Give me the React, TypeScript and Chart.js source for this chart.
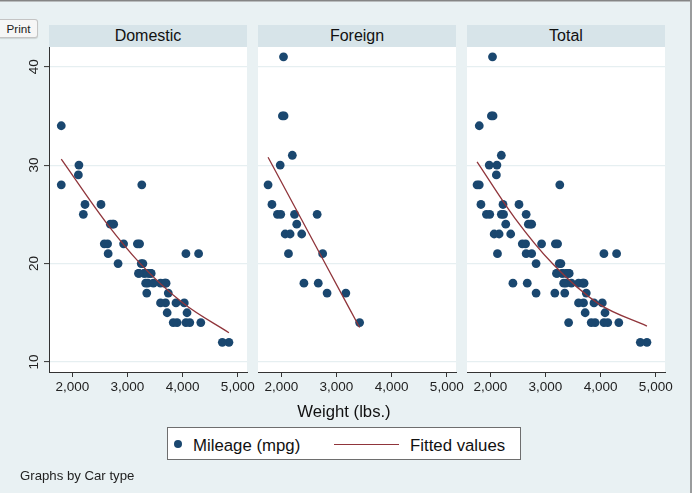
import React, { useEffect, useRef } from 'react';
import { Chart, registerables } from 'chart.js';

Chart.register(...registerables);

// ---------- data ----------
const panelTitles = ['Domestic', 'Foreign', 'Total'];

const domesticWeight = [
  2930, 3350, 2640, 3250, 4080, 3670, 2230, 3280, 3880, 3400, 4330, 3900, 4290,
  2110, 3690, 3180, 3220, 2750, 3430, 2120, 3600, 3600, 3740, 1800, 2650, 4840,
  4720, 3830, 2580, 4060, 3720, 3370, 4130, 2830, 4060, 3310, 3300, 3690, 3370,
  2730, 4030, 3260, 1800, 2200, 2520, 3330, 3700, 3470, 3210, 3200, 3420, 2690,
];
const domesticMpg = [
  22, 17, 22, 20, 15, 18, 26, 20, 16, 19, 14, 14, 21,
  29, 16, 22, 22, 24, 19, 30, 18, 16, 17, 28, 21, 12,
  12, 14, 22, 14, 15, 18, 14, 20, 21, 19, 19, 18, 19,
  24, 16, 28, 34, 25, 26, 18, 18, 18, 19, 19, 19, 24,
];
const foreignWeight = [
  2830, 2070, 2650, 2370, 2020, 2280, 2750, 2130, 2240, 1760, 1980,
  3420, 1830, 2050, 2410, 2200, 2670, 2160, 2040, 1930, 1990, 3170,
];
const foreignMpg = [
  17, 23, 25, 23, 35, 24, 21, 21, 25, 28, 30,
  14, 26, 35, 18, 31, 18, 23, 41, 25, 25, 17,
];

const domesticFitWeight = [1800, 2624, 3228, 4013, 4840];
const domesticFitMpg = [30.6, 24.08, 20.02, 15.96, 12.97];
const foreignFitWeight = [1760, 2250, 2800, 3420];
const foreignFitMpg = [30.8, 25.7, 19.95, 13.5];
const totalFitWeight = [1760, 2441, 3135, 3966, 4840];
const totalFitMpg = [30.33, 24.65, 19.95, 15.9, 13.65];

const xTicks = [2000, 3000, 4000, 5000];
const xTickLabels = ['2,000', '3,000', '4,000', '5,000'];
const yTicks = [10, 20, 30, 40];
const yTickLabels = ['10', '20', '30', '40'];

const xTitle = 'Weight (lbs.)';
const legendScatter = 'Mileage (mpg)';
const legendFit = 'Fitted values';
const note = 'Graphs by Car type';

// ---------- layout / style ----------
const W = 692;
const H = 493;
const FONT = '"Liberation Sans", Arial, Helvetica, sans-serif';
const AREA_TOP = 47;
const AREA_BOTTOM = 372;
const X_AXIS_H = 30;
const PANEL_W = 198;
const panelLefts = [49, 258, 467];
const X_MIN = 1577.5;
const X_MAX = 5167.5;
const Y_MIN = 8.98;
const Y_MAX = 42.0;

const BG = '#e9f1f3';
const STRIP = '#d7e4e9';
const GRID = '#e6eff1';
const AXIS = '#333333';
const NAVY = '#1a476f';
const MAROON = '#90353b';

const toPts = (xs: number[], ys: number[]) => xs.map((x, i) => ({ x, y: ys[i] }));

const whiteAreaPlugin = {
  id: 'whiteArea',
  beforeDraw(chart: any) {
    const { ctx, chartArea } = chart;
    ctx.save();
    ctx.fillStyle = '#ffffff';
    ctx.fillRect(chartArea.left, chartArea.top, chartArea.right - chartArea.left, chartArea.bottom - chartArea.top);
    ctx.restore();
  },
};

const yLabelPlugin = {
  id: 'yLabels',
  afterDraw(chart: any) {
    const { ctx } = chart;
    const s = chart.scales.y;
    ctx.save();
    ctx.font = `13.5px ${FONT}`;
    ctx.fillStyle = '#222';
    ctx.textAlign = 'center';
    ctx.textBaseline = 'alphabetic';
    yTicks.forEach((v, i) => {
      const y = s.getPixelForValue(v);
      ctx.save();
      ctx.translate(s.right - 11, y);
      ctx.rotate(-Math.PI / 2);
      ctx.fillText(yTickLabels[i], 0, 0);
      ctx.restore();
    });
    ctx.restore();
  },
};

function buildConfig(i: number): any {
  let scatter: { x: number; y: number }[];
  let fit: { x: number; y: number }[];
  if (i === 0) {
    scatter = toPts(domesticWeight, domesticMpg);
    fit = toPts(domesticFitWeight, domesticFitMpg);
  } else if (i === 1) {
    scatter = toPts(foreignWeight, foreignMpg);
    fit = toPts(foreignFitWeight, foreignFitMpg);
  } else {
    scatter = toPts(domesticWeight, domesticMpg).concat(toPts(foreignWeight, foreignMpg));
    fit = toPts(totalFitWeight, totalFitMpg);
  }
  const showY = i === 0;
  const left = panelLefts[i];
  return {
    type: 'scatter',
    data: {
      datasets: [
        {
          label: legendFit,
          data: fit,
          showLine: true,
          borderColor: MAROON,
          backgroundColor: MAROON,
          borderWidth: 1.3,
          pointRadius: 0,
          cubicInterpolationMode: 'monotone',
          fill: false,
          order: 0,
        },
        {
          label: legendScatter,
          data: scatter,
          backgroundColor: NAVY,
          borderColor: NAVY,
          borderWidth: 0,
          pointRadius: 4.4,
          order: 1,
        },
      ],
    },
    options: {
      responsive: false,
      animation: false,
      devicePixelRatio: 1,
      events: [],
      layout: {
        padding: {
          left,
          right: W - left - PANEL_W,
          top: AREA_TOP,
          bottom: H - AREA_BOTTOM - X_AXIS_H,
        },
      },
      plugins: { legend: { display: false }, tooltip: { enabled: false } },
      scales: {
        x: {
          type: 'linear',
          position: 'bottom',
          min: X_MIN,
          max: X_MAX,
          afterBuildTicks: (s: any) => {
            s.ticks = xTicks.map((v) => ({ value: v }));
          },
          afterFit: (s: any) => {
            s.height = X_AXIS_H;
          },
          ticks: {
            font: { family: FONT, size: 13.5 },
            color: '#222',
            padding: 2,
            maxRotation: 0,
            minRotation: 0,
            autoSkip: false,
            callback: (_v: any, idx: number) => xTickLabels[idx],
          },
          grid: {
            drawOnChartArea: false,
            drawTicks: true,
            tickLength: 5,
            tickColor: AXIS,
            tickWidth: 1,
          },
          border: { display: true, color: AXIS, width: 1 },
        },
        y: {
          type: 'linear',
          position: 'left',
          min: Y_MIN,
          max: Y_MAX,
          afterBuildTicks: (s: any) => {
            s.ticks = yTicks.map((v) => ({ value: v }));
          },
          afterFit: (s: any) => {
            s.width = 0;
          },
          ticks: { display: false },
          grid: {
            color: GRID,
            lineWidth: 1.2,
            drawTicks: showY,
            tickLength: 5,
            tickColor: AXIS,
            tickWidth: 1,
          },
          border: { display: showY, color: AXIS, width: 1 },
        },
      },
    },
    plugins: showY ? [whiteAreaPlugin, yLabelPlugin] : [whiteAreaPlugin],
  };
}

export default function App() {
  const r0 = useRef<HTMLCanvasElement>(null);
  const r1 = useRef<HTMLCanvasElement>(null);
  const r2 = useRef<HTMLCanvasElement>(null);

  useEffect(() => {
    const refs = [r0, r1, r2];
    const charts = refs.map((r, i) => new Chart(r.current as HTMLCanvasElement, buildConfig(i)));
    return () => charts.forEach((c) => c.destroy());
  }, []);

  const abs = (o: React.CSSProperties): React.CSSProperties => ({ position: 'absolute', ...o });
  const canvasStyle: React.CSSProperties = {
    position: 'absolute',
    left: 0,
    top: 0,
    width: W,
    height: H,
    pointerEvents: 'none',
  };

  return (
    <div
      style={{
        position: 'fixed',
        left: 0,
        top: 0,
        width: W,
        height: H,
        background: BG,
        overflow: 'hidden',
        fontFamily: FONT,
        color: '#111',
      }}
    >
      {/* window frame */}
      <div style={abs({ left: 0, top: 0, width: W, height: 1, background: '#858585' })} />
      <div style={abs({ left: 0, top: 1, width: W, height: 1, background: '#b9bcbd' })} />
      <div style={abs({ left: W - 2, top: 0, width: 2, height: H, background: '#9a9c9d' })} />

      {/* Print button */}
      <div
        style={abs({
          left: 0,
          top: 19,
          width: 38,
          height: 19,
          boxSizing: 'border-box',
          background: '#f6f6f6',
          border: '1px solid #c4c4c4',
          borderLeft: 'none',
          borderRadius: '0 3px 3px 0',
          boxShadow: '0 1px 1px rgba(0,0,0,0.12)',
          fontSize: 11.7,
          display: 'flex',
          alignItems: 'center',
          justifyContent: 'center',
          color: '#222',
        })}
      >
        Print
      </div>

      {/* strips */}
      {panelTitles.map((t, i) => (
        <div
          key={t}
          style={abs({
            left: panelLefts[i],
            top: 25,
            width: PANEL_W,
            height: 22,
            background: STRIP,
            display: 'flex',
            alignItems: 'center',
            justifyContent: 'center',
            fontSize: 16,
            lineHeight: '22px',
          })}
        >
          {t}
        </div>
      ))}

      <canvas ref={r0} width={W} height={H} style={canvasStyle} />
      <canvas ref={r1} width={W} height={H} style={canvasStyle} />
      <canvas ref={r2} width={W} height={H} style={canvasStyle} />

      {/* x title */}
      <div style={abs({ left: 0, top: 402, width: 688, textAlign: 'center', fontSize: 16.7, lineHeight: '20px' })}>
        {xTitle}
      </div>

      {/* legend */}
      <div
        style={abs({
          left: 167,
          top: 427,
          width: 354,
          height: 33,
          boxSizing: 'border-box',
          background: '#ffffff',
          border: '1.5px solid #6e6e6e',
        })}
      />
      <div style={abs({ left: 174.3, top: 440.3, width: 8, height: 8, borderRadius: '50%', background: NAVY })} />
      <div style={abs({ left: 193, top: 436, fontSize: 16.8, lineHeight: '20px', whiteSpace: 'nowrap' })}>
        {legendScatter}
      </div>
      <div style={abs({ left: 334, top: 444, width: 65, height: 1.3, background: MAROON })} />
      <div style={abs({ left: 410, top: 436, fontSize: 16.8, lineHeight: '20px', whiteSpace: 'nowrap' })}>
        {legendFit}
      </div>

      {/* note */}
      <div style={abs({ left: 20, top: 468, fontSize: 13.2, lineHeight: '16px', whiteSpace: 'nowrap', color: '#222' })}>
        {note}
      </div>
    </div>
  );
}
